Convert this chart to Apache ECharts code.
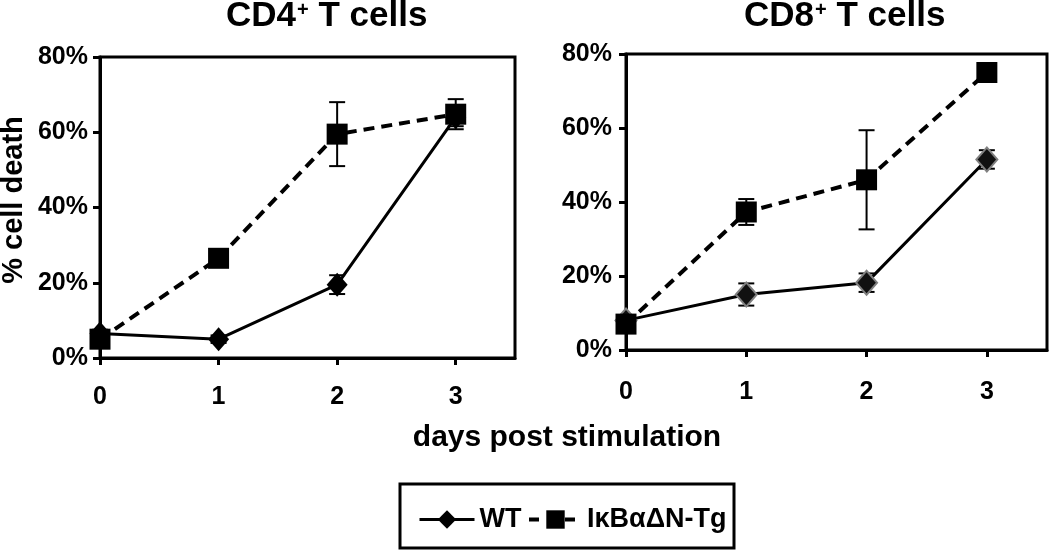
<!DOCTYPE html>
<html>
<head>
<meta charset="utf-8">
<script src="https://cdn.jsdelivr.net/npm/echarts@6/dist/echarts.min.js"></script>
<style>html,body{margin:0;padding:0;background:#fff}#c{width:1050px;height:552px}</style>
</head>
<body>
<div id="c"></div>
<script>
// ---- data ----
const days = [0, 1, 2, 3];
const yTicks = [0, 20, 40, 60, 80];
const cd4Wt = [6.5, 5, 19.5, 64];
const cd4WtErr = [1, 1, 2.5, 2.4];
const cd4Tg = [5, 26.5, 59.5, 64.8];
const cd4TgErr = [1, 1, 8.5, 4];
const cd8Wt = [8, 15, 18.2, 51.5];
const cd8WtErr = [1, 3, 2.5, 2.5];
const cd8Tg = [7, 37.3, 46, 75];
const cd8TgErr = [1, 3.5, 13.4, 1.5];
const seriesNames = ['WT', 'IκBαΔN-Tg'];
const titles = ['CD4', 'CD8'];
const xName = 'days post stimulation';
const yName = '% cell death';

const FONT = '"Liberation Sans", Arial, Helvetica, sans-serif';
const pts = (v) => days.map((d, i) => [d, v[i]]);
const errs = (v, e) => days.map((d, i) => [d, v[i] - e[i], v[i] + e[i]]);

function errSeries(idx, data) {
  return {
    type: 'custom', xAxisIndex: idx, yAxisIndex: idx, z: 1, silent: true,
    clip: false,
    data: data,
    renderItem: function (params, api) {
      const x = api.value(0);
      const top = api.coord([x, api.value(2)]);
      const bot = api.coord([x, api.value(1)]);
      const w = 8;
      const st = { stroke: '#000', lineWidth: 2 };
      return {
        type: 'group',
        children: [
          { type: 'line', shape: { x1: top[0], y1: top[1], x2: bot[0], y2: bot[1] }, style: st },
          { type: 'line', shape: { x1: top[0] - w, y1: top[1], x2: top[0] + w, y2: top[1] }, style: st },
          { type: 'line', shape: { x1: bot[0] - w, y1: bot[1], x2: bot[0] + w, y2: bot[1] }, style: st }
        ]
      };
    }
  };
}

function wtSeries(idx, data, border) {
  return {
    name: seriesNames[0], type: 'line', xAxisIndex: idx, yAxisIndex: idx, z: 3, clip: false,
    data: data, symbol: 'diamond', symbolSize: [21, 24],
    lineStyle: { color: '#000', width: 3 },
    itemStyle: border ? { color: '#111', borderColor: '#808080', borderWidth: 2 } : { color: '#000' }
  };
}
function tgSeries(idx, data) {
  return {
    name: seriesNames[1], type: 'line', xAxisIndex: idx, yAxisIndex: idx, z: 4, clip: false,
    data: data, symbol: 'rect', symbolSize: 21,
    lineStyle: { color: '#000', width: 4, type: [11, 7] },
    itemStyle: { color: '#000' }
  };
}

function xAxis(idx, margin) {
  return {
    type: 'value', gridIndex: idx, min: 0, max: 3.5,
    axisLine: { show: true, lineStyle: { color: '#000', width: 3 } },
    axisTick: { show: true, inside: false, length: 7, lineStyle: { color: '#000', width: 3 }, customValues: days },
    axisLabel: { customValues: days, margin: margin, color: '#000', fontFamily: FONT, fontWeight: 'bold', fontSize: 25 },
    splitLine: { show: false }
  };
}
function yAxis(idx, margin) {
  return {
    type: 'value', gridIndex: idx, min: 0, max: 80, interval: 20,
    axisLine: { show: true, lineStyle: { color: '#000', width: 3 } },
    axisTick: { show: true, inside: false, length: 7, lineStyle: { color: '#000', width: 3 } },
    axisLabel: { margin: margin, color: '#000', fontFamily: FONT, fontWeight: 'bold', fontSize: 25, formatter: (v) => v + '%' },
    splitLine: { show: false }
  };
}
function title(text, left) {
  return {
    text: '{a|' + text + '}{s|+}{a| T cells}', left: left, top: 0, padding: 0,
    textStyle: {
      rich: {
        a: { fontFamily: FONT, fontWeight: 'bold', fontSize: 35, color: '#000', lineHeight: 32 },
        s: { fontFamily: FONT, fontWeight: 'bold', fontSize: 20, color: '#000', verticalAlign: 'top', lineHeight: 32, padding: [0, 0, 12, 1] }
      }
    }
  };
}
const legendText = { color: '#000', fontFamily: FONT, fontWeight: 'bold', fontSize: 27 };

const chart = echarts.init(document.getElementById('c'));
chart.setOption({
  animation: false,
  backgroundColor: '#fff',
  title: [title(titles[0], 226), title(titles[1], 744)],
  grid: [
    { left: 100, top: 57, width: 415, height: 301, show: true, borderColor: '#000', borderWidth: 3, backgroundColor: 'transparent' },
    { left: 626, top: 54, width: 421, height: 296, show: true, borderColor: '#000', borderWidth: 3, backgroundColor: 'transparent' }
  ],
  xAxis: [xAxis(0, 27), xAxis(1, 30)],
  yAxis: [yAxis(0, 12), yAxis(1, 14)],
  legend: [
    { data: [seriesNames[0]], left: 418, top: 506, padding: 0, itemWidth: 55, itemHeight: 23, selectedMode: false, textStyle: legendText, lineStyle: { width: 3 } },
    { data: [seriesNames[1]], left: 527, top: 506, padding: 0, itemWidth: 53, itemHeight: 23, selectedMode: false, textStyle: legendText, lineStyle: { width: 4, type: [10, 8] } }
  ],
  graphic: [
    { type: 'rect', shape: { x: 400, y: 484, width: 334, height: 64 }, style: { fill: 'none', stroke: '#000', lineWidth: 3 }, silent: true },
    { type: 'text', style: { x: 567, y: 438, text: xName, align: 'center', verticalAlign: 'middle', font: 'bold 30px ' + FONT, fill: '#000' }, silent: true },
    { type: 'text', x: 14, y: 200, rotation: Math.PI / 2, style: { x: 0, y: 0, text: yName, align: 'center', verticalAlign: 'middle', font: 'bold 29px ' + FONT, fill: '#000' }, silent: true }
  ],
  series: [
    errSeries(0, errs(cd4Wt, cd4WtErr)),
    errSeries(0, errs(cd4Tg, cd4TgErr)),
    wtSeries(0, pts(cd4Wt), false),
    tgSeries(0, pts(cd4Tg)),
    errSeries(1, errs(cd8Wt, cd8WtErr)),
    errSeries(1, errs(cd8Tg, cd8TgErr)),
    wtSeries(1, pts(cd8Wt), true),
    tgSeries(1, pts(cd8Tg))
  ]
});
</script>
</body>
</html>
